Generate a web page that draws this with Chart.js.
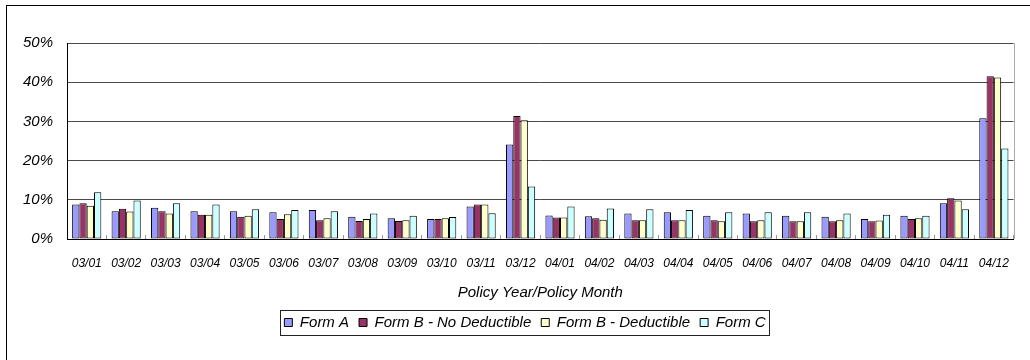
<!DOCTYPE html>
<html>
<head>
<meta charset="utf-8">
<script src="https://cdn.jsdelivr.net/npm/chart.js@4/dist/chart.umd.min.js"></script>
<style>
  html, body { margin: 0; padding: 0; background: #fff; }
  #wrap { width: 1030px; height: 360px; }
</style>
</head>
<body>
<div id="wrap"><canvas id="chart" width="1030" height="360"></canvas></div>
<script>
const months = ['03/01', '03/02', '03/03', '03/04', '03/05', '03/06', '03/07', '03/08', '03/09', '03/10', '03/11', '03/12',
  '04/01', '04/02', '04/03', '04/04', '04/05', '04/06', '04/07', '04/08', '04/09', '04/10', '04/11', '04/12'];

const formA = [8.8, 7.1, 8.0, 7.1, 7.1, 6.8, 7.4, 5.7, 5.3, 5.1, 8.3, 24.1, 6.0, 5.8, 6.5, 6.8, 5.9, 6.5, 5.9, 5.7, 5.1, 5.9, 9.1, 30.8];
const formBNoDed = [9.15, 7.7, 7.1, 6.2, 5.7, 5.1, 4.8, 4.6, 4.6, 5.1, 8.8, 31.4, 5.5, 5.3, 4.8, 4.8, 4.8, 4.5, 4.5, 4.5, 4.5, 5.1, 10.4, 41.5];
const formBDed = [8.5, 7.0, 6.5, 6.2, 5.9, 6.3, 5.3, 5.1, 4.8, 5.3, 8.8, 30.3, 5.5, 4.9, 4.8, 4.8, 4.5, 4.8, 4.5, 4.8, 4.7, 5.3, 9.8, 41.2];
const formC = [11.9, 9.8, 9.15, 8.8, 7.6, 7.4, 7.1, 6.5, 5.9, 5.6, 6.6, 13.4, 8.3, 7.8, 7.6, 7.4, 6.8, 6.8, 6.8, 6.5, 6.2, 5.9, 7.6, 23.1];

const seriesNames = ['Form A', 'Form B - No Deductible', 'Form B - Deductible', 'Form C'];
const seriesColors = ['#9999FF', '#993366', '#FFFFCC', '#CCFFFF'];
const yTicks = [0, 10, 20, 30, 40, 50];

const FONT = "'Liberation Sans', Arial, sans-serif";

// white page + outer frame, plot right edge, box round the legend
const framePlugin = {
  id: 'frame',
  afterLayout(chart) {
    // legend sits a little right of the canvas centre in the original
    // (legend's own afterUpdate rebuilds the hit boxes from left/right)
    const lg = chart.legend;
    if (lg) {
      lg.left += 13;
      lg.right += 13;
    }
  },
  beforeDraw(chart) {
    const ctx = chart.ctx;
    ctx.save();
    ctx.fillStyle = '#fff';
    ctx.fillRect(0, 0, chart.width, chart.height);
    ctx.strokeStyle = '#000';
    ctx.lineWidth = 1;
    ctx.strokeRect(6.5, 5.5, chart.width, chart.height);
    ctx.restore();
  },
  afterDraw(chart) {
    const ctx = chart.ctx;
    const a = chart.chartArea;
    ctx.save();
    ctx.strokeStyle = '#aaa';
    ctx.lineWidth = 1;
    ctx.beginPath();
    ctx.moveTo(Math.round(a.right) + 0.5, a.top);
    ctx.lineTo(Math.round(a.right) + 0.5, a.bottom);
    ctx.stroke();

    const boxes = chart.legend.legendHitBoxes;
    if (boxes && boxes.length) {
      const l = Math.min(...boxes.map((b) => b.left)) - 4;
      const r = Math.max(...boxes.map((b) => b.left + b.width)) + 4;
      const t = Math.min(...boxes.map((b) => b.top)) - 5;
      const btm = Math.max(...boxes.map((b) => b.top + b.height)) + 5;
      ctx.strokeStyle = '#222';
      ctx.strokeRect(Math.round(l) + 0.5, Math.round(t) + 0.5, Math.round(r - l), Math.round(btm - t));
    }
    ctx.restore();
  },
};

const datasets = [formA, formBNoDed, formBDed, formC].map((data, i) => ({
  label: seriesNames[i],
  data,
  backgroundColor: seriesColors[i],
  borderColor: '#000',
  borderWidth: 1,
  borderSkipped: false,
  barPercentage: 1,
  categoryPercentage: 0.74,
}));

new Chart(document.getElementById('chart'), {
  type: 'bar',
  data: { labels: months, datasets },
  plugins: [framePlugin],
  options: {
    responsive: false,
    animation: false,
    layout: { padding: { top: 43, right: 6, bottom: 20, left: 0 } },
    plugins: {
      tooltip: { enabled: false },
      legend: {
        position: 'bottom',
        labels: {
          boxWidth: 8,
          boxHeight: 8,
          padding: 10,
          color: '#000',
          font: { family: FONT, size: 15, style: 'italic' },
        },
      },
    },
    scales: {
      x: {
        offset: true,
        grid: {
          offset: true,
          drawOnChartArea: false,
          tickLength: -4,
          tickColor: '#999',
        },
        border: { color: '#000', width: 1 },
        ticks: {
          padding: 21,
          maxRotation: 0,
          autoSkip: false,
          color: '#000',
          font: { family: FONT, size: 12, style: 'italic' },
        },
        title: {
          display: true,
          text: 'Policy Year/Policy Month',
          color: '#000',
          padding: { top: 4, bottom: 3 },
          font: { family: FONT, size: 15, style: 'italic' },
        },
        afterFit(scale) { scale.height = 66; },
      },
      y: {
        min: 0,
        max: 50,
        afterBuildTicks(scale) { scale.ticks = yTicks.map((v) => ({ value: v })); },
        grid: { color: '#4a4a4a', drawTicks: false },
        border: { color: '#000', width: 1 },
        ticks: {
          padding: 14,
          color: '#000',
          font: { family: FONT, size: 15, style: 'italic' },
          callback: (v) => v + '%',
        },
        afterFit(scale) { scale.width = 67; },
      },
    },
  },
});
</script>
</body>
</html>
